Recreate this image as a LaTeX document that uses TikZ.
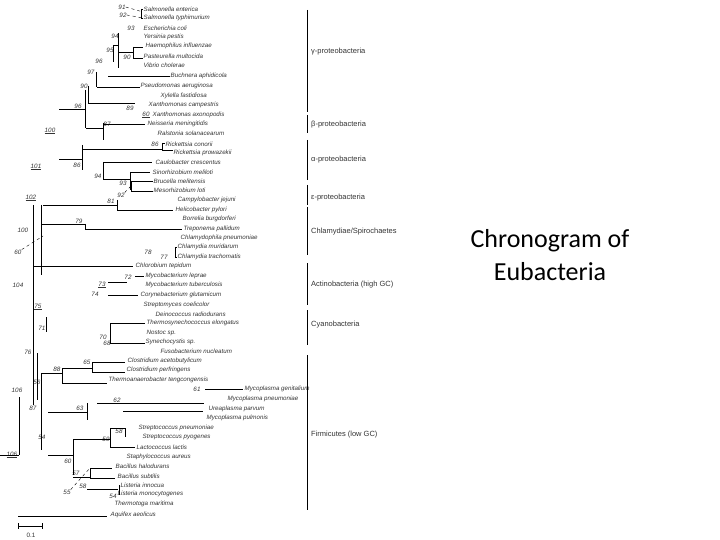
\documentclass[tikz,border=0pt]{standalone}
\usepackage{fontspec}
\setmainfont{Liberation Sans}
\newfontfamily\titlefont{Carlito}
\begin{document}
\begin{tikzpicture}[x=1pt,y=-1pt,
  taxon/.style={anchor=west,inner sep=0.5pt,font=\fontsize{6.2}{7}\selectfont\itshape,text=black!80},
  boot/.style={inner sep=0pt,font=\fontsize{6.3}{7}\selectfont\itshape,text=black!80},
  grp/.style={anchor=west,inner sep=0pt,font=\fontsize{7.5}{8}\selectfont,text=black!80},
  br/.style={line width=0.6pt},
  lead/.style={line width=0.4pt,dashed}]
\useasboundingbox (0,0) rectangle (720,540);
% taxa
\foreach \n/\x/\y/\t in {
 t1/143/9/Salmonella enterica, t2/143/18/Salmonella typhimurium, t3/143/28/Escherichia coli,
 t4/143/37/Yersinia pestis, t5/145/46/Haemophilus influenzae, t6/143/56/Pasteurella multocida,
 t7/143/65/Vibrio cholerae, t8/170/76/Buchnera aphidicola, t9/140/86/Pseudomonas aeruginosa,
 t10/160/96/Xylella fastidiosa, t11/148/105/Xanthomonas campestris, t12/152/115/Xanthomonas axonopodis,
 t13/147/124/Neisseria meningitidis, t14/157/133/Ralstonia solanacearum, t15/165/144/Rickettsia conorii,
 t16/173/153/Rickettsia prowazekii, t17/155/162/Caulobacter crescentus, t18/152/172/Sinorhizobium meliloti,
 t19/153/181/Brucella melitensis, t20/153/190/Mesorhizobium loti, t21/177/200/Campylobacter jejuni,
 t22/175/210/Helicobacter pylori, t23/182/219/Borrelia burgdorferi, t24/183/229/Treponema pallidum,
 t25/180/238/Chlamydophila pneumoniae, t26/177/247/Chlamydia muridarum, t27/177/257/Chlamydia trachomatis,
 t28/135/266/Chlorobium tepidum, t29/145/276/Mycobacterium leprae, t30/145/285/Mycobacterium tuberculosis,
 t31/140/295/Corynebacterium glutamicum, t32/143/305/Streptomyces coelicolor, t33/155/314/Deinococcus radiodurans,
 t34/146/323/Thermosynechococcus elongatus, t35/146/333/Nostoc sp., t36/145/342/Synechocystis sp.,
 t37/160/351/Fusobacterium nucleatum, t38/127/361/Clostridium acetobutylicum, t39/126/370/Clostridium perfringens,
 t40/108/380/Thermoanaerobacter tengcongensis, t41/244/389/Mycoplasma genitalium, t42/227/399/Mycoplasma pneumoniae,
 t43/208/409/Ureaplasma parvum, t44/206/418/Mycoplasma pulmonis, t45/138/428/Streptococcus pneumoniae,
 t46/142/437/Streptococcus pyogenes, t47/136/447/Lactococcus lactis, t48/126/457/Staphylococcus aureus,
 t49/115/466/Bacillus halodurans, t50/117/476/Bacillus subtilis, t51/120/485/Listeria innocua,
 t52/117/494/Listeria monocytogenes, t53/114/504/Thermotoga maritima, t54/110/515/Aquifex aeolicus}
 \node[taxon] (\n) at (\x,\y) {\t};
% bootstrap values
\foreach \n/\x/\y/\v in {
 b1/122/7/91, b2/123/15/92, b3/131/28/93, b4/115/36/94, b5/110/50/95, b6/127/57/90,
 b7/99/61/96, b8/91/72/97, b9/84/86/90, b10/78/106/96, b11/130/108/89, b13/107/124/87,
 b15/155/144/86, b16/77/165/86, b18/98/176/94, b19/123/183/93, b20/121/195/92,
 b21/111/201/81, b23/23/230/100, b24/18/252/60, b25/148/252/78, b26/164/257/77,
 b27/18/285/104, b28/128/277/72, b30/95/294/74, b32/42/328/71, b33/103/337/70, b34/107/343/68,
 b35/28/352/76, b36/87/362/65, b37/57/369/88, b38/37/382/56, b39/197/389/61, b40/17/390/106,
 b41/117/400/62, b42/33/408/87, b43/80/408/63, b44/42/437/54, b45/119/431/58, b46/106/439/59,
 b47/68/461/60, b48/76/473/57, b49/67/492/55, b50/83/486/58, b51/113/496/54}
 \node[boot] (\n) at (\x,\y) {\v};
\foreach \n/\x/\y/\v in {b12/146/115/60, b14/50/131/100, b17/36/167/101, b22/31/198/102,
 b29/102/285/73, b31/38/307/75, b52/12/455/106, b53/79/222/79}
 \node[boot] (\n) at (\x,\y) {\underline{\v}};
% leaders
\draw[lead] (b1.east) -- (t1.west|-t1.south);
\draw[lead] (b2.east) -- (t2.west);
\draw[lead] (b20.north east) -- (130,187);
\draw[lead] (b24.north east) -- (43,236);
\draw[lead] (b49.north east) -- (90,468);
% branches
\draw[br] (141,9)--(141,18) (141,9)--(143,9) (141,18)--(143,18);
\draw[br] (118,33)--(118,68) (113,45)--(113,62) (113,45)--(118,45);
\draw[br] (133,47)--(133,58) (133,47)--(143,47) (133,58)--(143,58) (118,52)--(133,52);
\draw[br] (108,76)--(170,76) (96,72)--(96,87) (97,87)--(140,87);
\draw[br] (88,86)--(88,103) (88,103)--(135,103) (85,90)--(85,128) (59,109)--(85,109);
\draw[br] (86,128)--(103,128) (103,123)--(103,140) (103,124)--(145,124);
\draw[br] (82,149)--(162,149) (162,143)--(162,150) (162,143)--(165,143) (162,150)--(173,150);
\draw[br] (59,159)--(82,159) (82,145)--(82,170) (103,162)--(152,162) (103,162)--(103,179);
\draw[br] (103,179)--(130,179) (130,172)--(130,190) (130,172)--(150,172);
\draw[br] (131,181)--(131,191) (131,181)--(153,181) (131,191)--(153,191);
\draw[br] (43,205)--(117,205) (117,200)--(117,210) (117,210)--(173,210);
\draw[br] (41,224)--(85,224) (85,224)--(85,229) (85,229)--(182,229);
\draw[br] (175,247)--(175,257) (175,247)--(177,247) (175,257)--(177,257);
\draw[br] (33,205)--(33,405) (41,205)--(41,275) (33,266)--(133,266);
\draw[br] (135,276)--(144,276) (108,282)--(127,282) (108,295)--(138,295);
\draw[br] (46,317)--(46,332) (110,323)--(110,343) (110,323)--(145,323) (110,343)--(145,343);
\draw[br] (37,353)--(37,400) (41,373)--(41,450) (41,373)--(62,373);
\draw[br] (62,368)--(62,383) (62,383)--(107,383) (62,368)--(92,368);
\draw[br] (92,362)--(92,373) (92,362)--(125,362) (92,372)--(125,372);
\draw[br] (205,389)--(243,389) (97,403)--(204,403) (48,412)--(87,412) (87,403)--(87,420);
\draw[br] (123,411)--(203,411) (19,397)--(19,455) (0,455)--(19,455);
\draw[br] (110,428)--(125,428) (125,428)--(125,437) (110,428)--(110,447) (110,447)--(135,447);
\draw[br] (48,455)--(73,455) (73,439)--(73,475) (73,439)--(110,439);
\draw[br] (73,477)--(90,477) (90,468)--(90,478) (90,468)--(112,468) (90,478)--(115,478);
\draw[br] (87,489)--(118,489) (119,485)--(119,495);
\draw[br] (18,516)--(107,516);
% scale bar
\draw[br] (18,526)--(42,526) (18,523)--(18,529) (42,523)--(42,529);
\node[boot,font=\fontsize{6.3}{7}\selectfont] (sc) at (31,535) {0.1};
% group bars
\foreach \n/\a/\b/\ly/\t in {g1/10/112/52/γ-proteobacteria, g2/115/133/125/β-proteobacteria,
 g3/140/180/160/α-proteobacteria, g4/185/205/198/ε-proteobacteria,
 g5/207/255/232/{Chlamydiae/Spirochaetes}, g6/263/305/285/Actinobacteria (high GC),
 g7/310/345/325/Cyanobacteria, g8/355/510/435/Firmicutes (low GC)}{
 \draw[line width=0.8pt] (307,\a)--(307,\b);
 \node[grp] (\n) at (311,\ly) {\t};}
\node[align=center,font=\titlefont\fontsize{26}{33}\selectfont] (title) at (550,255) {Chronogram of\\Eubacteria};
\end{tikzpicture}
\end{document}
